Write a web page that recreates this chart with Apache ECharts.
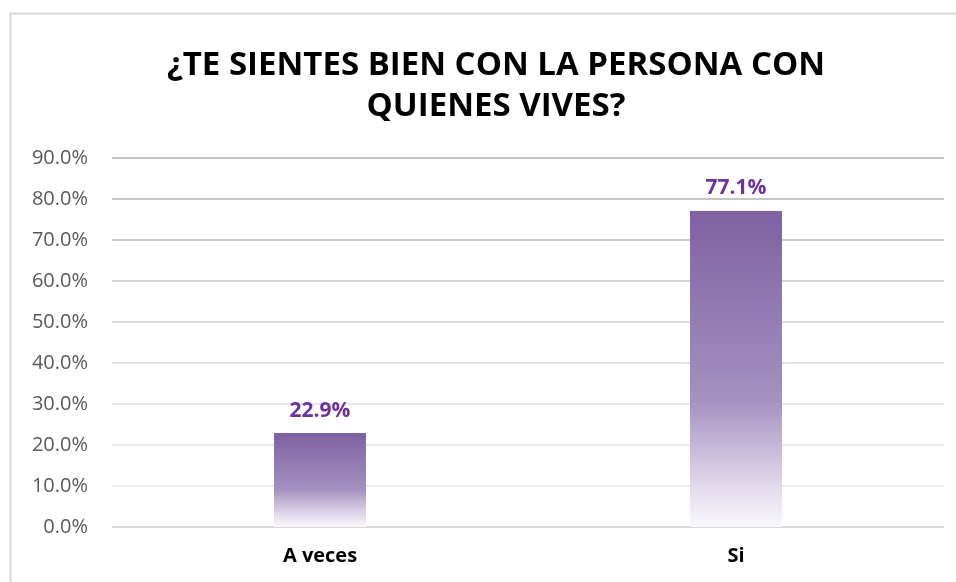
<!DOCTYPE html>
<html><head><meta charset="utf-8">
<script src="https://cdn.jsdelivr.net/npm/echarts@6/dist/echarts.min.js"></script>
<style>html,body{margin:0;padding:0;background:#fff}#c{width:956px;height:582px}</style>
</head><body><div id="c"></div>
<script>
const titleText = "¿TE SIENTES BIEN CON LA PERSONA CON\nQUIENES VIVES?";
const categories = ["A veces", "Si"];
const values = [22.9, 77.1];
const yMin = 0, yMax = 90, yStep = 10;

const chart = echarts.init(document.getElementById('c'));
chart.setOption({
  backgroundColor: '#fff',
  animation: false,
  graphic: [{
    type: 'rect', shape: {x: 10.5, y: 13.5, width: 980, height: 620},
    style: {fill: 'none', stroke: '#d9d9d9', lineWidth: 2}
  }],
  title: {
    text: titleText, left: 491, textAlign: 'center', top: 40,
    textStyle: {fontFamily: 'Open Sans', fontWeight: 'bold', fontSize: 33, color: '#000', lineHeight: 41}
  },
  grid: {left: 112, right: 12, top: 158, bottom: 55, containLabel: false},
  xAxis: {
    type: 'category', data: categories,
    axisLine: {lineStyle: {color: '#d9d9d9', width: 1}},
    axisTick: {show: false},
    axisLabel: {color: '#000', fontWeight: 'bold', fontSize: 20, fontFamily: 'Open Sans', margin: 19}
  },
  yAxis: {
    type: 'value', min: yMin, max: yMax, interval: yStep,
    axisLine: {show: false}, axisTick: {show: false},
    axisLabel: {color: '#595959', fontSize: 20, fontFamily: 'Open Sans', margin: 24,
      formatter: v => v.toFixed(1) + '%'},
    splitLine: {lineStyle: {width: 2, color: ['#d9d9d9','#ededed','#ececec','#e8e8e8','#e2e2e2','#dcdcdc','#d4d4d4','#cccccc','#c6c6c6','#c2c2c2']}}
  },
  series: [{
    type: 'bar', data: values, barWidth: 92,
    itemStyle: {color: new echarts.graphic.LinearGradient(0, 0, 0, 1, [
      {offset: 0, color: '#7e61a2'},
      {offset: 0.6, color: '#a591c1'},
      {offset: 0.87, color: '#e2d9ec'},
      {offset: 1, color: '#faf8fc'}
    ])},
    label: {show: true, position: 'top', distance: 12, color: '#7030a0', fontWeight: 'bold', fontSize: 21, fontFamily: 'Open Sans',
      formatter: p => p.value.toFixed(1) + '%'}
  }]
});
</script></body></html>
